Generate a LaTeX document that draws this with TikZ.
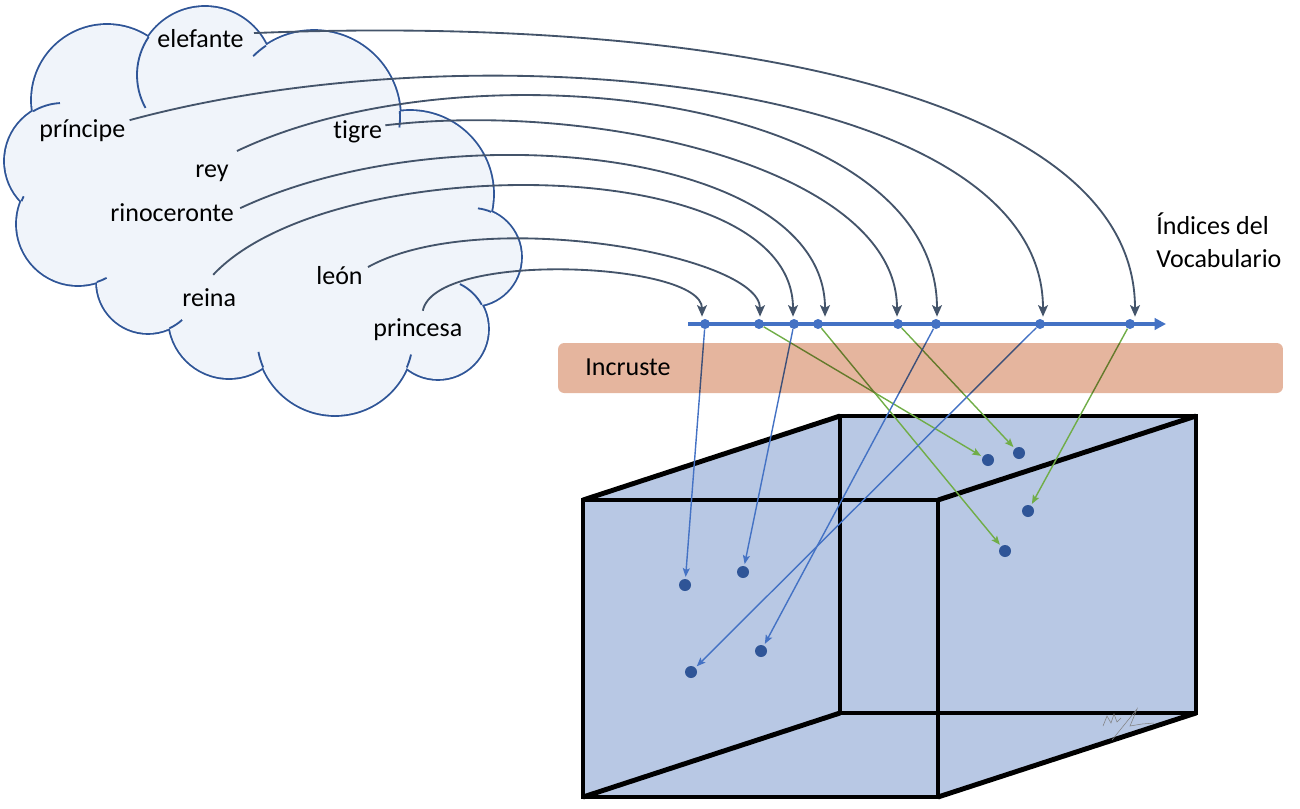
\documentclass[tikz,border=0pt]{standalone}
\usepackage{fontspec}
\setmainfont{Carlito}[Ligatures=NoCommon]
\usetikzlibrary{arrows.meta,calc}

\definecolor{cloudfill}{RGB}{240,244,250}
\definecolor{cloudline}{RGB}{47,85,151}
\definecolor{curvecol}{RGB}{68,84,106}
\definecolor{axisblue}{RGB}{68,114,196}
\definecolor{dotblue}{RGB}{47,85,151}
\definecolor{linkgreen}{RGB}{112,173,71}
\definecolor{cubefill}{RGB}{184,200,228}
\definecolor{bandfill}{RGB}{229,181,158}

\tikzset{
  word/.style={anchor=base west,inner sep=0pt,font=\fontsize{14.8}{18.7}\selectfont},
  cloudedge/.style={draw=cloudline,line width=1.05pt},
  wordarrow/.style={draw=curvecol,line width=1.05pt,-{Stealth[length=6.5pt,width=5.6pt,inset=1.4pt]}},
  bluelink/.style={draw=axisblue,line width=0.8pt,shorten >=1pt,-{Stealth[length=5pt,width=4pt,inset=1pt]}},
  greenlink/.style={draw=linkgreen,line width=0.8pt,shorten >=1pt,-{Stealth[length=5pt,width=4pt,inset=1pt]}},
  axisdot/.style={circle,fill=axisblue,inner sep=0pt,minimum size=0.2cm},
  cubedot/.style={circle,fill=dotblue,inner sep=0pt,minimum size=0.24cm},
  cubeedge/.style={draw=black,line width=2.8pt,line join=miter},
  bandbox/.style={fill=bandfill,rounded corners=3.5pt,minimum width=14.5cm,minimum height=1cm,inner sep=0pt}
}

\begin{document}
\begin{tikzpicture}[x=0.02cm,y=-0.02cm]
\useasboundingbox (0,0) rectangle (1300,808);

% the box
\coordinate (ftl) at (583,500); \coordinate (ftr) at (938,500);
\coordinate (fbl) at (583,797); \coordinate (fbr) at (938,797);
\coordinate (btl) at (840,416); \coordinate (btr) at (1196,416);
\coordinate (bbl) at (840,713); \coordinate (bbr) at (1196,713);
\fill[cubefill] (ftl) -- (btl) -- (btr) -- (bbr) -- (fbr) -- (fbl) -- cycle;
\draw[cubeedge] (btl) rectangle (bbr);
\draw[cubeedge] (ftl) -- (btl) (ftr) -- (btr) (fbl) -- (bbl) (fbr) -- (bbr);
\draw[cubeedge] (ftl) rectangle (fbr);
\draw[gray,line width=0.3pt] (1103,726) -- (1107,716) -- (1111,723) -- (1114,714) -- (1117,722) -- (1121,718)
  (1112,740) -- (1137,709) -- (1130,726) -- (1142,724) -- (1154,723);

% vocabulary axis
\coordinate (axL) at (688,324);
\coordinate (axR) at (1166,324);
\draw[axisblue,line width=1.9pt,-{Triangle[length=6.5pt,width=6.5pt]}] (axL) -- (axR);
\foreach \i/\x in {1/705,2/759,3/794,4/818,5/898,6/936,7/1040,8/1130}
  \node[axisdot] (v\i) at (\x,324) {};

% embedded points
\node[cubedot] (c1) at (685,585) {};
\node[cubedot] (c2) at (743,572) {};
\node[cubedot] (c3) at (761,651) {};
\node[cubedot] (c4) at (691,672) {};
\node[cubedot] (c5) at (988,460) {};
\node[cubedot] (c6) at (1019,453) {};
\node[cubedot] (c7) at (1028,511) {};
\node[cubedot] (c8) at (1005,551) {};

\draw[bluelink] (v1) -- (c1);
\draw[greenlink] (v2) -- (c5);
\draw[bluelink] (v3) -- (c2);
\draw[greenlink] (v4) -- (c8);
\draw[greenlink] (v5) -- (c6);
\draw[bluelink] (v6) -- (c3);
\draw[bluelink] (v7) -- (c4);
\draw[greenlink] (v8) -- (c7);

\begin{scope}[blend mode=multiply]
\node[bandbox] (band) at (920.5,368) {};
\end{scope}
\node[word] (incruste) at (585,375) {Incruste};
\node[word,align=left] (indices) at (1156,267) {Índices del\\Vocabulario};

% cloud: puffs stroked wide, then filled over
\foreach \cx/\cy/\r in {107/100/75,205/75/68,314/117/86,410/194/83,472/257/49,438/329/50,335/337/78,229/318/60,148/282/51,78/224/61,63/161/58}
  \draw[cloudline,line width=2.1pt] (\cx,\cy) circle[radius=\r];
\foreach \cx/\cy/\r in {107/100/75,205/75/68,314/117/86,410/194/83,472/257/49,438/329/50,335/337/78,229/318/60,148/282/51,78/224/61,63/161/58}
  \fill[cloudfill] (\cx,\cy) circle[radius=\r];
\fill[cloudfill] (107,100) -- (205,75) -- (314,117) -- (410,194) -- (472,257) -- (438,329)
  -- (335,337) -- (229,318) -- (148,282) -- (78,224) -- (63,161) -- cycle;
\foreach \cx/\cy/\r/\a/\b in {205/75/68/151/214,314/117/86/225/236,314/117/86/356/367,472/257/49/277/293,438/329/50/296/331,335/337/78/169/157,335/337/78/23/13,148/282/51/65/48,78/224/61/207/202,78/224/61/72/62,63/161/58/267/239}
  \draw[cloudedge] (\cx,\cy) ++(\a:\r) arc[start angle=\a,end angle=\b,radius=\r];

\node[word] (elefante) at (157,47) {elefante};
\node[word] (principe) at (39,137) {príncipe};
\node[word] (tigre) at (333,138) {tigre};
\node[word] (rey) at (195,177) {rey};
\node[word] (rinoceronte) at (110,221) {rinoceronte};
\node[word] (reina) at (182,306) {reina};
\node[word] (leon) at (316,284) {león};
\node[word] (princesa) at (373,336) {princesa};

% words to indices
\draw[wordarrow] ($(elefante.east)+(10,-5)$) .. controls (700,15) and (1135,90) .. ($(v8.north)+(5,-2)$);
\draw[wordarrow] ($(principe.east)+(4,-10)$) .. controls (480,25) and (1043,80) .. ($(v7.north)+(3,-2)$);
\draw[wordarrow] ($(rey.north east)+(8,-13)$) .. controls (470,40) and (937,95) .. ($(v6.north)+(1,-2)$);
\draw[wordarrow] ($(tigre.east)+(3,-6)$) .. controls (600,100) and (897,170) .. ($(v5.north)+(-1,-2)$);
\draw[wordarrow] ($(rinoceronte.east)+(6,-4)$) .. controls (450,110) and (825,150) .. ($(v4.north)+(7,-2)$);
\draw[wordarrow] ($(reina.north)+(4,-13)$) .. controls (330,150) and (793,150) .. ($(v3.north)+(-1,-2)$);
\draw[wordarrow] ($(leon.east)+(5,-8)$) .. controls (480,205) and (760,255) .. ($(v2.north)+(1,-2)$);
\draw[wordarrow] ($(princesa.north)+(5,-7)$) .. controls (435,250) and (702,262) .. ($(v1.north)+(-3,-2)$);
\end{tikzpicture}
\end{document}
